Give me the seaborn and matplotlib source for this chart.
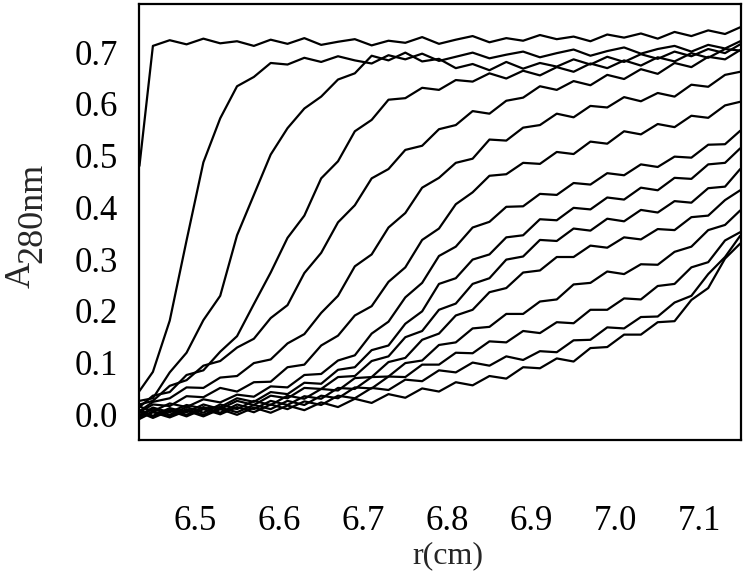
import matplotlib
matplotlib.use('Agg')
import pandas as pd
import matplotlib.pyplot as plt
import seaborn as sns

# radius grid (cm), shared by every scan
r_cm = [6.434, 6.45, 6.47, 6.49, 6.51, 6.53, 6.55, 6.57, 6.59, 6.61, 6.63, 6.65,
        6.67, 6.69, 6.71, 6.73, 6.75, 6.77, 6.79, 6.81, 6.83, 6.85, 6.87, 6.89,
        6.91, 6.93, 6.95, 6.97, 6.99, 7.01, 7.03, 7.05, 7.07, 7.09, 7.11, 7.13, 7.148]

# absorbance at 280 nm, one list per scan (earliest first)
scan_01 = [0.480, 0.712, 0.723, 0.715, 0.726, 0.717, 0.721, 0.712, 0.724, 0.716, 0.727, 0.714,
           0.720, 0.725, 0.713, 0.722, 0.718, 0.729, 0.716, 0.724, 0.731, 0.719, 0.727, 0.722,
           0.733, 0.725, 0.730, 0.721, 0.734, 0.728, 0.736, 0.726, 0.739, 0.731, 0.742, 0.735, 0.748]
scan_02 = [0.045, 0.082, 0.181, 0.336, 0.487, 0.572, 0.634, 0.652, 0.679, 0.676, 0.689, 0.681,
           0.692, 0.684, 0.678, 0.694, 0.686, 0.697, 0.683, 0.691, 0.699, 0.688, 0.695, 0.701,
           0.690, 0.698, 0.705, 0.693, 0.702, 0.709, 0.697, 0.706, 0.712, 0.701, 0.714, 0.707, 0.721]
scan_03 = [0.026, 0.031, 0.081, 0.119, 0.182, 0.229, 0.346, 0.424, 0.502, 0.553, 0.591, 0.614,
           0.647, 0.659, 0.693, 0.684, 0.699, 0.682, 0.687, 0.669, 0.677, 0.665, 0.681, 0.668,
           0.679, 0.672, 0.686, 0.676, 0.691, 0.681, 0.696, 0.687, 0.701, 0.692, 0.706, 0.698, 0.715]
scan_04 = [0.014, 0.036, 0.043, 0.076, 0.085, 0.121, 0.151, 0.213, 0.274, 0.341, 0.384, 0.456,
           0.489, 0.547, 0.569, 0.608, 0.611, 0.631, 0.627, 0.646, 0.643, 0.659, 0.649, 0.664,
           0.655, 0.671, 0.662, 0.678, 0.669, 0.684, 0.674, 0.690, 0.682, 0.698, 0.689, 0.706, 0.703]
scan_05 = [0.019, 0.026, 0.055, 0.066, 0.094, 0.103, 0.129, 0.146, 0.186, 0.211, 0.273, 0.312,
           0.371, 0.404, 0.456, 0.474, 0.511, 0.519, 0.551, 0.559, 0.586, 0.581, 0.606, 0.612,
           0.634, 0.627, 0.644, 0.636, 0.656, 0.648, 0.667, 0.658, 0.679, 0.671, 0.691, 0.686, 0.704]
scan_06 = [0.006, 0.024, 0.031, 0.052, 0.051, 0.071, 0.074, 0.099, 0.106, 0.137, 0.155, 0.196,
           0.229, 0.286, 0.309, 0.361, 0.389, 0.438, 0.457, 0.486, 0.494, 0.531, 0.529, 0.554,
           0.559, 0.581, 0.574, 0.596, 0.593, 0.613, 0.605, 0.621, 0.614, 0.637, 0.633, 0.656, 0.662]
scan_07 = [0.004, 0.019, 0.016, 0.035, 0.033, 0.051, 0.044, 0.062, 0.063, 0.091, 0.096, 0.133,
           0.152, 0.191, 0.209, 0.256, 0.284, 0.337, 0.359, 0.406, 0.429, 0.461, 0.464, 0.486,
           0.484, 0.507, 0.503, 0.527, 0.523, 0.547, 0.541, 0.561, 0.555, 0.577, 0.573, 0.597, 0.604]
scan_08 = [0.015, 0.006, 0.021, 0.014, 0.029, 0.023, 0.038, 0.034, 0.054, 0.052, 0.076, 0.078,
           0.104, 0.114, 0.156, 0.179, 0.226, 0.254, 0.306, 0.324, 0.361, 0.372, 0.401, 0.402,
           0.426, 0.424, 0.447, 0.444, 0.466, 0.462, 0.483, 0.478, 0.498, 0.496, 0.521, 0.522, 0.548]
scan_09 = [-0.002, 0.013, 0.004, 0.018, 0.011, 0.014, 0.031, 0.024, 0.043, 0.039, 0.061, 0.059,
           0.086, 0.091, 0.124, 0.133, 0.175, 0.199, 0.252, 0.263, 0.299, 0.309, 0.342, 0.346,
           0.377, 0.375, 0.399, 0.396, 0.419, 0.415, 0.438, 0.433, 0.457, 0.455, 0.483, 0.486, 0.514]
scan_10 = [0.008, -0.003, 0.012, 0.004, 0.019, 0.010, 0.026, 0.018, 0.036, 0.031, 0.051, 0.049,
           0.072, 0.074, 0.103, 0.112, 0.149, 0.161, 0.202, 0.214, 0.252, 0.263, 0.299, 0.305,
           0.337, 0.335, 0.359, 0.355, 0.378, 0.373, 0.395, 0.390, 0.412, 0.409, 0.437, 0.440, 0.474]
scan_11 = [-0.005, 0.011, -0.001, 0.014, 0.003, 0.019, 0.010, 0.026, 0.018, 0.036, 0.030, 0.049,
           0.046, 0.070, 0.072, 0.101, 0.109, 0.144, 0.156, 0.191, 0.202, 0.236, 0.244, 0.274,
           0.278, 0.304, 0.304, 0.326, 0.322, 0.342, 0.338, 0.358, 0.356, 0.381, 0.384, 0.414, 0.433]
scan_12 = [0.007, -0.004, 0.010, -0.001, 0.014, 0.003, 0.019, 0.010, 0.026, 0.018, 0.035, 0.030,
           0.051, 0.049, 0.072, 0.073, 0.099, 0.104, 0.134, 0.139, 0.166, 0.169, 0.194, 0.194,
           0.218, 0.222, 0.251, 0.254, 0.276, 0.271, 0.290, 0.289, 0.314, 0.324, 0.356, 0.366, 0.394]
scan_13 = [-0.008, 0.006, -0.004, 0.010, -0.001, 0.013, 0.004, 0.018, 0.010, 0.026, 0.018, 0.036,
           0.031, 0.052, 0.050, 0.073, 0.072, 0.096, 0.096, 0.119, 0.118, 0.141, 0.139, 0.161,
           0.157, 0.178, 0.176, 0.202, 0.202, 0.224, 0.222, 0.248, 0.252, 0.284, 0.294, 0.336, 0.352]
scan_14 = [0.004, -0.007, 0.007, -0.004, 0.010, 0.000, 0.014, 0.004, 0.019, 0.010, 0.025, 0.018,
           0.036, 0.031, 0.051, 0.047, 0.067, 0.064, 0.085, 0.081, 0.100, 0.094, 0.112, 0.105,
           0.122, 0.120, 0.143, 0.144, 0.168, 0.166, 0.188, 0.189, 0.216, 0.229, 0.271, 0.304, 0.345]
scan_15 = [-0.009, 0.004, -0.006, 0.007, -0.004, 0.010, -0.001, 0.013, 0.003, 0.017, 0.008, 0.023,
           0.014, 0.030, 0.022, 0.039, 0.032, 0.050, 0.044, 0.062, 0.056, 0.074, 0.069, 0.091,
           0.089, 0.108, 0.102, 0.128, 0.130, 0.154, 0.154, 0.178, 0.180, 0.221, 0.244, 0.301, 0.330]

scans = [scan_01, scan_02, scan_03, scan_04, scan_05, scan_06, scan_07, scan_08,
         scan_09, scan_10, scan_11, scan_12, scan_13, scan_14, scan_15]

x_ticks = [6.5, 6.6, 6.7, 6.8, 6.9, 7.0, 7.1]
y_ticks = [0.0, 0.1, 0.2, 0.3, 0.4, 0.5, 0.6, 0.7]


def main():
    sns.set_theme(style='white')
    plt.rcParams['font.family'] = ['Liberation Serif', 'DejaVu Serif']

    df = pd.concat([pd.DataFrame({'r': r_cm, 'A': a, 'scan': i})
                    for i, a in enumerate(scans)], ignore_index=True)

    fig = plt.figure(figsize=(7.47, 5.78), dpi=100)
    ax = fig.add_axes([0.1861, 0.2388, 0.8059, 0.7543])
    sns.lineplot(data=df, x='r', y='A', units='scan', estimator=None, sort=False,
                 color='black', linewidth=1.6, ax=ax)

    ax.set_xlim(6.4335, 7.149)
    ax.set_ylim(-0.0496, 0.793)
    ax.set_xticks(x_ticks)
    ax.set_xticklabels([f'{t:.1f}' for t in x_ticks])
    ax.set_yticks(y_ticks)
    ax.set_yticklabels([f'{t:.1f}' for t in y_ticks])
    ax.tick_params(axis='both', direction='out', length=7, width=1.2,
                   colors='black', labelsize=25)
    ax.tick_params(axis='x', pad=40)
    ax.tick_params(axis='y', pad=8)
    for s in ax.spines.values():
        s.set_color('black')
        s.set_linewidth(1.6)
    ax.set_xlabel('')
    ax.set_ylabel('')

    # y label: "A" with a lowered "280nm", drawn as two texts
    fig.text(0.028, 1 - 275 / 578, 'A', rotation=90, ha='center', va='center', fontsize=26)
    fig.text(0.044, 1 - 213 / 578, '280nm', rotation=90, ha='center', va='center', fontsize=26)
    fig.text(0.6, 1 - 556 / 578, 'r(cm)', ha='center', va='center', fontsize=23)

    fig.savefig('out.png', dpi=100, facecolor='white')


if __name__ == '__main__':
    main()
